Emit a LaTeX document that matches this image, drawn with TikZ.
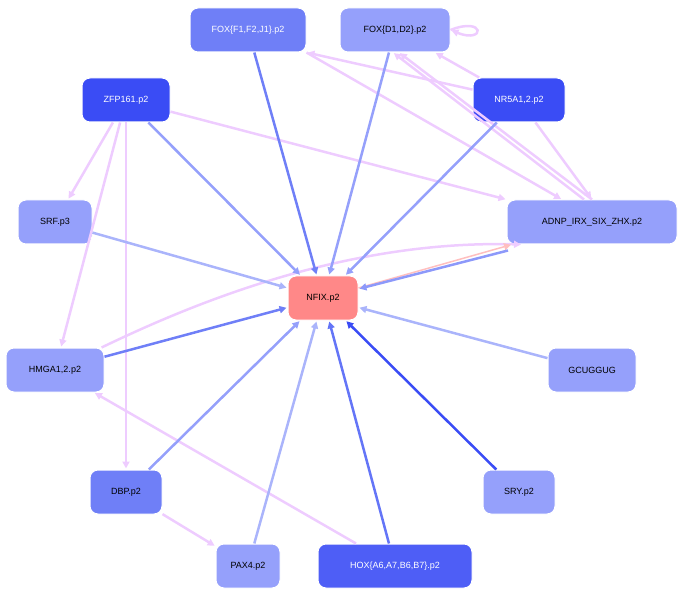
\documentclass[tikz,border=0pt]{standalone}
\usepackage{fontspec}
\setmainfont{Liberation Sans}
\usetikzlibrary{arrows.meta}
\definecolor{cA}{HTML}{3A4CF5}
\definecolor{cB}{HTML}{6F7FF7}
\definecolor{cC}{HTML}{95A0FB}
\definecolor{cD}{HTML}{AAB4FB}
\definecolor{cP}{HTML}{EECCFF}
\definecolor{cN}{HTML}{FF8888}
\begin{document}
\begin{tikzpicture}[x=1pt,y=-1pt,
  nd/.style={draw=white,line width=1pt,rounded corners=8pt,minimum height=44pt,inner sep=0pt,font=\fontsize{9}{10}\selectfont},
  ed/.style={line width=2.5pt,-{Triangle[length=7pt,width=7pt]},shorten >=1pt},
  pk/.style={ed,draw=cP,color=cP}]
\useasboundingbox (0,0) rectangle (683,596);
\node[nd,fill=cB,text=white,minimum width=116pt] (foxf) at (248,30) {FOX\{F1,F2,J1\}.p2};
\node[nd,fill=cC,minimum width=110pt] (foxd) at (395,30) {FOX\{D1,D2\}.p2};
\node[nd,fill=cA,text=white,minimum width=88pt] (zfp) at (126,100) {ZFP161.p2};
\node[nd,fill=cA,text=white,minimum width=92pt] (nr5) at (519,100) {NR5A1,2.p2};
\node[nd,fill=cC,minimum width=74pt] (srf) at (55,222) {SRF.p3};
\node[nd,fill=cC,minimum width=170pt] (adnp) at (592,222) {ADNP\_IRX\_SIX\_ZHX.p2};
\node[nd,fill=cN,minimum width=70pt] (nfix) at (323,298) {NFIX.p2};
\node[nd,fill=cC,minimum width=98pt] (hmga) at (55,370) {HMGA1,2.p2};
\node[nd,fill=cC,minimum width=88pt] (gcu) at (592,370) {GCUGGUG};
\node[nd,fill=cB,minimum width=72pt] (dbp) at (126,492) {DBP.p2};
\node[nd,fill=cC,minimum width=72pt] (sry) at (519,492) {SRY.p2};
\node[nd,fill=cC,minimum width=64pt] (pax) at (248,566) {PAX4.p2};
\node[nd,fill=cA!90!white,text=white,minimum width=154pt] (hox) at (395,566) {HOX\{A6,A7,B6,B7\}.p2};
\begin{scope}[on background layer/.style={}]
% pink edges
\draw[pk] (zfp) -- (srf);
\draw[pk] (zfp) -- (hmga);
\draw[pk] (zfp) -- (dbp);
\draw[pk] (zfp) -- (adnp.north west);
\draw[pk] (nr5) -- (foxf.south east);
\draw[pk] (nr5) -- (foxd);
\draw[pk] (nr5) -- (adnp.north);
\draw[pk] (adnp.north) -- ([xshift=4pt]foxd.south);
\draw[pk] ([xshift=-8pt]adnp.north) -- ([xshift=-2pt]foxd.south);
\draw[pk] (foxf.south east) -- ([xshift=-30pt]adnp.north);
\draw[pk] (foxd.east) .. controls +(35,-14) and +(35,14) .. (foxd.east);
\draw[pk] (hmga) .. controls (200,300) and (350,240) .. ([xshift=-70pt]adnp.south);
\draw[pk] (hox) -- (hmga);
\draw[pk] (dbp) -- (pax);
\draw[ed,draw=red!25,color=red!25,line width=1.5pt] (nfix) -- ([xshift=-80pt]adnp.south);
% blue edges
\draw[ed,draw=cB,color=cB] (foxf) -- (nfix);
\draw[ed,draw=cC,color=cC] (foxd) -- (nfix);
\draw[ed,draw=cC,color=cC] (zfp) -- (nfix);
\draw[ed,draw=cC,color=cC] (nr5) -- (nfix);
\draw[ed,draw=cD,color=cD] (srf) -- (nfix);
\draw[ed,draw=cC!80!cB,color=cC!80!cB] ([xshift=-84pt,yshift=-6pt]adnp.south) -- (nfix);
\draw[ed,draw=cB,color=cB] (hmga) -- (nfix);
\draw[ed,draw=cD,color=cD] (gcu) -- (nfix);
\draw[ed,draw=cC,color=cC] (dbp) -- (nfix);
\draw[ed,draw=cA,color=cA] (sry) -- (nfix);
\draw[ed,draw=cD,color=cD] (pax) -- (nfix);
\draw[ed,draw=cB!80!cA,color=cB!80!cA] (hox) -- (nfix);
\end{scope}
\end{tikzpicture}
\end{document}
